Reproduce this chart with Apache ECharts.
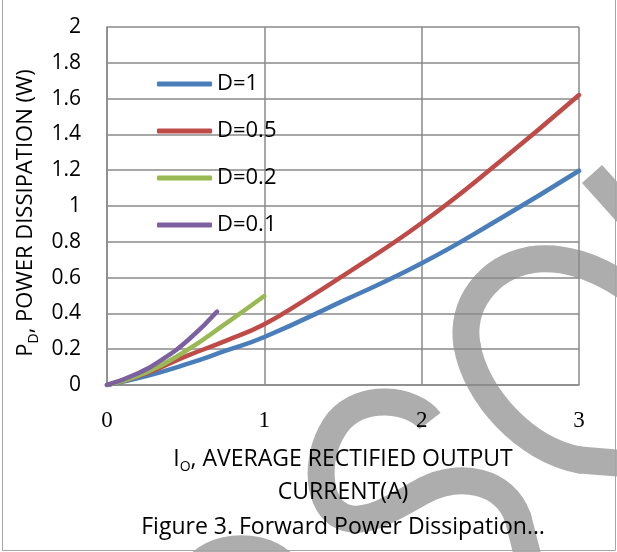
<!DOCTYPE html>
<html>
<head>
<meta charset="utf-8">
<script src="https://cdn.jsdelivr.net/npm/echarts@6/dist/echarts.min.js"></script>
<style>
  html, body { margin: 0; padding: 0; background: #fff; }
  #chart { width: 617px; height: 552px; }
</style>
</head>
<body>
<div id="chart"></div>
<script>
// values (x = Io in A, y = Pd in W)
const seriesNames = ['D=1', 'D=0.5', 'D=0.2', 'D=0.1']
const seriesColors = ['#4a7ebb', '#be4b48', '#98b954', '#7d60a0']

const currentD1 = [0, 0.25, 0.5, 0.75, 1, 1.5, 2, 2.5, 3]
const powerD1 = [0, 0.05, 0.115, 0.19, 0.268, 0.47, 0.68, 0.93, 1.197]

const currentD05 = [0, 0.25, 0.5, 0.75, 1, 1.25, 1.5, 2, 2.5, 3]
const powerD05 = [0, 0.065, 0.16, 0.245, 0.34, 0.47, 0.61, 0.905, 1.25, 1.62]

const currentD02 = [0, 0.25, 0.5, 0.75, 1]
const powerD02 = [0, 0.07, 0.19, 0.34, 0.497]

const currentD01 = [0, 0.175, 0.35, 0.525, 0.7]
const powerD01 = [0, 0.057, 0.142, 0.258, 0.41]

const xTicks = { min: 0, max: 3, interval: 1 }
const yTicks = { min: 0, max: 2, interval: 0.2 }

const seriesX = [currentD1, currentD05, currentD02, currentD01]
const seriesY = [powerD1, powerD05, powerD02, powerD01]

const sansFont = '"Open Sans", "Noto Sans", sans-serif'
const gridColor = '#8a8a8a'
const markColor = '#adadad'

// watermark strokes (page pixels): [x1,y1,cpx1,cpy1,cpx2,cpy2,x2,y2] or [x1,y1,x2,y2]
const markSegments = [
  [592, 174, 628, 214],
  [630, 290, 595, 265, 560, 255, 530, 260],
  [530, 260, 488, 268, 460, 305, 467, 345],
  [467, 345, 475, 395, 525, 450, 580, 460],
  [580, 460, 630, 464],
  [430, 421, 412, 398, 362, 393, 338, 422],
  [338, 422, 315, 452, 316, 500, 338, 514],
  [338, 514, 362, 530, 395, 506, 425, 490],
  [425, 490, 460, 472, 505, 480, 518, 518],
  [518, 518, 530, 565],
  [192, 575, 207, 540, 276, 540, 291, 575],
]

const markGraphics = markSegments.map((s, i) => {
  const style = { fill: 'none', stroke: markColor, lineWidth: 27, lineCap: (i === 0 || i === 5) ? 'butt' : 'round' }
  if (s.length === 4) {
    return { type: 'line', shape: { x1: s[0], y1: s[1], x2: s[2], y2: s[3] }, style, z: -10, silent: true }
  }
  return {
    type: 'bezierCurve',
    shape: { x1: s[0], y1: s[1], cpx1: s[2], cpy1: s[3], cpx2: s[4], cpy2: s[5], x2: s[6], y2: s[7] },
    style,
    z: -10,
    silent: true,
  }
})

const chart = echarts.init(document.getElementById('chart'))

const option = {
  animation: false,
  backgroundColor: '#fff',
  title: {
    text: 'Figure 3. Forward Power Dissipation…',
    left: 343,
    top: 512,
    padding: 0,
    textAlign: 'center',
    textStyle: { fontFamily: sansFont, fontSize: 23, lineHeight: 30, fontWeight: 'normal', color: '#000' },
  },
  legend: {
    data: seriesNames,
    orient: 'vertical',
    left: 157,
    top: 72,
    padding: 0,
    itemWidth: 55,
    itemHeight: 5,
    itemGap: 23,
    icon: 'roundRect',
    textStyle: { fontFamily: sansFont, fontSize: 22, lineHeight: 24, color: '#000' },
  },
  grid: {
    left: 107,
    right: 38,
    top: 27,
    bottom: 167,
    containLabel: false,
  },
  xAxis: {
    type: 'value',
    min: xTicks.min,
    max: xTicks.max,
    interval: xTicks.interval,
    name: '{a|I}{sub|O}{a|, AVERAGE RECTIFIED OUTPUT}\n{a|CURRENT(A)}',
    nameLocation: 'middle',
    nameGap: 58,
    nameTextStyle: {
      rich: {
        a: { fontFamily: sansFont, fontSize: 23, color: '#000', lineHeight: 33 },
        sub: { fontFamily: sansFont, fontSize: 14, color: '#000', lineHeight: 33, padding: [15, 0, 0, 0] },
      },
    },
    axisLine: { lineStyle: { color: gridColor, width: 1.5 } },
    axisTick: { show: false },
    axisLabel: { fontFamily: '"Liberation Serif", serif', fontSize: 23, color: '#000', margin: 24 },
    splitLine: { show: true, lineStyle: { color: gridColor, width: 1.5 } },
  },
  yAxis: {
    type: 'value',
    min: yTicks.min,
    max: yTicks.max,
    interval: yTicks.interval,
    name: '{a|P}{sub|D}{a|, POWER DISSIPATION (W)}{gap|}',
    nameLocation: 'middle',
    nameRotate: 90,
    nameGap: 66,
    nameTextStyle: {
      rich: {
        a: { fontFamily: sansFont, fontSize: 22, color: '#000' },
        sub: { fontFamily: sansFont, fontSize: 14, color: '#000', padding: [15, 0, 0, 0] },
        gap: { width: 14 },
      },
    },
    axisLine: { show: true, lineStyle: { color: gridColor, width: 1.5 } },
    axisTick: { show: false },
    axisLabel: { fontFamily: sansFont, fontSize: 21, color: '#000', margin: 26 },
    splitLine: { show: true, lineStyle: { color: gridColor, width: 1.5 } },
  },
  series: seriesNames.map((name, i) => ({
    name,
    type: 'line',
    data: seriesX[i].map((x, j) => [x, seriesY[i][j]]),
    smooth: true,
    symbol: 'none',
    color: seriesColors[i],
    lineStyle: { width: 4.5, color: seriesColors[i], cap: 'round' },
    z: 3,
  })),
  graphic: [
    // outer frame of the picture
    {
      type: 'rect',
      shape: { x: 2.5, y: -5, width: 613, height: 555.5 },
      style: { fill: 'none', stroke: '#a6a6a6', lineWidth: 1 },
      z: 50,
      silent: true,
    },
    ...markGraphics,
  ],
}

chart.setOption(option)
window.addEventListener('resize', () => chart.resize())
</script>
</body>
</html>
